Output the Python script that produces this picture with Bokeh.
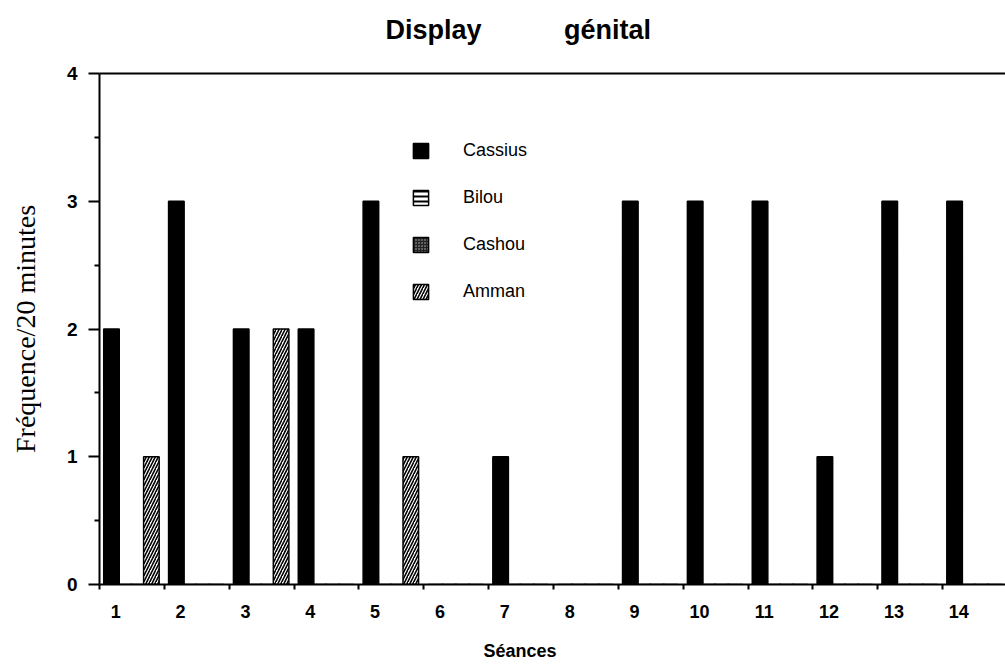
from bokeh.plotting import figure
from bokeh.models import (FixedTicker, LinearAxis, Range1d, Legend,
                          LegendItem, ColumnDataSource)
from bokeh.transform import dodge
from bokeh.embed import file_html
from bokeh.resources import INLINE

# ---- data ----
sessions = list(range(1, 15))
session_labels = [str(s) for s in sessions]
cassius = [2, 3, 2, 2, 3, 0, 1, 0, 3, 3, 3, 1, 3, 3]
bilou = [0] * 14
cashou = [0] * 14
amman = [1, 0, 2, 0, 1, 0, 0, 0, 0, 0, 0, 0, 0, 0]
series_names = ["Cassius", "Bilou", "Cashou", "Amman"]
y_ticks = [0, 1, 2, 3, 4]

src = ColumnDataSource(dict(session=sessions, Cassius=cassius, Bilou=bilou,
                            Cashou=cashou, Amman=amman))

FONT = "Liberation Sans"
NB = "\u00a0"

p = figure(width=1005, height=665,
           x_range=Range1d(0.75, 14.72), y_range=Range1d(0, 4),
           output_backend="svg", toolbar_location=None,
           min_border_left=99, min_border_right=0,
           min_border_top=73, min_border_bottom=81)
p.outline_line_color = None
p.xgrid.grid_line_color = None
p.ygrid.grid_line_color = None
p.background_fill_color = "white"
p.border_fill_color = "white"

# title
p.title.text = "Display" + NB * 11 + "génital"
p.title.text_font = FONT
p.title.text_font_size = "27px"
p.title.text_font_style = "bold"
p.title.text_color = "black"
p.title.align = "left"
p.title.offset = 286
p.title.standoff = 4

# bars
bw = 0.24
styles = {
    "Cassius": dict(fill_color="black", line_color="black"),
    "Bilou": dict(fill_color="white", line_color="black",
                  hatch_pattern="horizontal_line", hatch_color="black",
                  hatch_scale=5, hatch_weight=2),
    "Cashou": dict(fill_color="#222222", line_color="black",
                   hatch_pattern="dot", hatch_color="#bbbbbb",
                   hatch_scale=3, hatch_weight=1),
    "Amman": dict(fill_color="white", line_color="black",
                  hatch_pattern="right_diagonal_line", hatch_color="black",
                  hatch_scale=6, hatch_weight=1.6),
}
offsets = {"Cassius": -0.065, "Bilou": 0.14, "Cashou": 0.345, "Amman": 0.55}
renderers = {}
for name in series_names:
    renderers[name] = p.vbar(x=dodge("session", offsets[name], range=p.x_range),
                             top=name, width=bw, source=src, line_width=1.5,
                             **styles[name])

legend = Legend(items=[LegendItem(label=n, renderers=[renderers[n]]) for n in series_names],
                location=(312, 282), glyph_width=19, glyph_height=19,
                label_standoff=33, spacing=26, padding=0, margin=0,
                border_line_color=None, background_fill_alpha=0,
                label_text_font=FONT, label_text_font_size="18px",
                label_text_color="black", label_height=20)
p.add_layout(legend)

# x axis
xa = p.xaxis[0]
xa.ticker = FixedTicker(ticks=sessions, minor_ticks=[s - 0.25 for s in sessions + [15]])
xa.major_label_overrides = {s: l for s, l in zip(sessions, session_labels)}
xa.major_tick_line_color = None
xa.major_tick_out = 0
xa.major_tick_in = 0
xa.minor_tick_out = 5
xa.minor_tick_in = 0
xa.minor_tick_line_width = 2
xa.axis_line_width = 2
xa.major_label_standoff = 15
xa.major_label_text_font = FONT
xa.major_label_text_font_style = "bold"
xa.major_label_text_font_size = "18px"
xa.major_label_text_color = "black"
xa.axis_label = "Séances" + NB * 13
xa.axis_label_text_font = FONT
xa.axis_label_text_font_style = "bold"
xa.axis_label_text_font_size = "18px"
xa.axis_label_text_color = "black"
xa.axis_label_standoff = 20

# y axis
ya = p.yaxis[0]
ya.ticker = FixedTicker(ticks=y_ticks, minor_ticks=[0.5, 1.5, 2.5, 3.5])
ya.major_tick_out = 11
ya.major_tick_in = 0
ya.minor_tick_out = 5
ya.minor_tick_in = 0
ya.major_tick_line_width = 2
ya.minor_tick_line_width = 2
ya.axis_line_width = 2
ya.major_label_standoff = 11
ya.major_label_text_font = FONT
ya.major_label_text_font_style = "bold"
ya.major_label_text_font_size = "19px"
ya.major_label_text_color = "black"
ya.axis_label = "Fréquence/20 minutes"
ya.axis_label_text_font = "Liberation Serif"
ya.axis_label_text_font_style = "normal"
ya.axis_label_text_font_size = "28px"
ya.axis_label_standoff = 23
ya.axis_label_text_color = "black"

# top frame line; an invisible tick reserves room between frame and title
top = LinearAxis(ticker=FixedTicker(ticks=[1]), major_label_text_font_size="0px",
                 major_label_overrides={1: ""},
                 major_tick_line_color=None, minor_tick_line_color=None,
                 axis_line_width=2, major_label_standoff=0,
                 major_tick_out=27, major_tick_in=0, minor_tick_out=0)
p.add_layout(top, "above")

open("out.html", "w").write(file_html(p, INLINE))
